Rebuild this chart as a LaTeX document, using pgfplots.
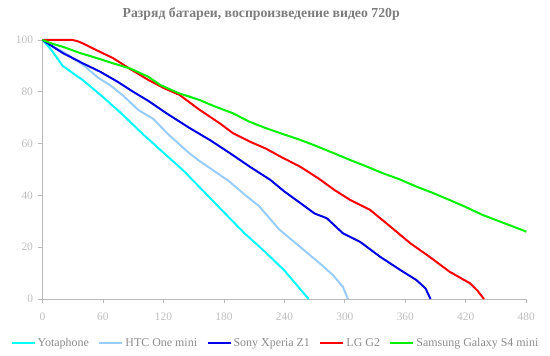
\documentclass[border=0pt]{standalone}
\usepackage{fontspec}
\setmainfont{Liberation Serif}
\usepackage{pgfplots}
\pgfplotsset{compat=1.18}
\definecolor{titlegray}{RGB}{125,125,125}
\definecolor{tickgray}{RGB}{190,190,190}
\definecolor{leggray}{RGB}{140,140,140}
\definecolor{axgray}{RGB}{185,185,185}
\definecolor{htc}{RGB}{153,204,255}
\definecolor{yota}{RGB}{0,255,255}
\definecolor{sony}{RGB}{0,0,230}
\definecolor{lg}{RGB}{255,0,0}
\definecolor{sams}{RGB}{0,240,0}
\begin{document}
\begin{tikzpicture}[x=1bp,y=1bp]
\path[use as bounding box] (-42.5,-56) rectangle (507.5,299);
\begin{axis}[
  at={(0,0)}, anchor=south west,
  scale only axis, width=483.8bp, height=259bp,
  xmin=0, xmax=480, ymin=0, ymax=100,
  axis lines*=left,
  axis line style={axgray, line width=0.8bp},
  xtick={0,60,...,480}, ytick={0,20,...,100},
  tick style={axgray, line width=0.8bp},
  tick align=outside, major tick length=4bp,
  tick label style={font=\fontsize{11.5}{13}\selectfont, text=tickgray},
  /pgf/number format/assume math mode=true,
  xticklabel style={yshift=-6bp},
  yticklabel style={xshift=-2bp},
  title={\textbf{Разряд батареи, воспроизведение видео 720р}},
  title style={font=\fontsize{13.8}{15}\selectfont, text=titlegray, at={(0.452,1)}, yshift=10bp},
  legend columns=5,
  legend style={draw=none, fill=none, at={(0.4816,-0.17)}, anchor=center,
    font=\fontsize{12}{13}\selectfont, text=leggray,
    /tikz/every even column/.append style={column sep=7.5bp}},
  legend image code/.code={\draw[#1, line width=2bp] (0bp,0bp) -- (23bp,0bp);},
  every axis plot/.append style={line width=2bp},
  clip=false,
]
\addplot[yota] coordinates {(0,100)(5,98)(10,95.5)(20,90)(40,84.5)(60,78)(80,71)(100,63.5)(120,56.5)(140,49.5)(160,41.5)(180,33.5)(200,25.5)(220,18.5)(240,11)(264,0)};
\addlegendentry{Yotaphone}
\addplot[htc] coordinates {(0,100)(10,97.5)(20,95.5)(40,90.5)(55,85.5)(67,82.6)(80,78.5)(95,73)(110,69.5)(125,63.5)(145,56.5)(155,53.5)(170,49.5)(185,45.5)(200,40.5)(215,35.8)(235,26.8)(255,20.3)(275,13.8)(288,9.3)(298,4.7)(303,0)};
\addlegendentry{HTC One mini}
\addplot[sony] coordinates {(0,100)(20,95)(40,91)(57,87.8)(74,84)(90,80)(105,76.5)(123,71.7)(146,66)(166,61.4)(186,56.3)(206,51)(226,46)(240,41.5)(256,37)(270,33)(282,31.2)(298,25.4)(315,22.1)(335,16.3)(355,11.2)(371,7.3)(380,4.1)(385,0)};
\addlegendentry{Sony Xperia Z1}
\addplot[lg] coordinates {(0,100)(30,100)(35,99.5)(40,98.7)(54,96)(70,93)(87,88.8)(105,84.6)(120,81.5)(136,78.8)(156,73)(176,67.8)(189,64)(206,60.7)(222,58)(236,55)(256,51)(274,46.5)(290,42)(305,38.3)(325,34.4)(345,28)(365,21.5)(384,16.3)(404,10.5)(424,6.1)(432,3)(438,0)};
\addlegendentry{LG G2}
\addplot[sams] coordinates {(0,100)(10,98.5)(20,97.4)(37,95)(54,93)(70,91)(87,89)(105,85.8)(117,82.6)(135,79.5)(156,76.8)(170,74.5)(189,71.7)(205,68.5)(222,65.9)(240,63.5)(256,61.4)(272,59)(289,56.3)(305,53.7)(322,51.1)(338,48.5)(353,46.4)(371,43.4)(387,41)(404,38.2)(420,35.5)(437,32.4)(460,29)(480,26)};
\addlegendentry{Samsung Galaxy S4 mini}
\end{axis}
\end{tikzpicture}
\end{document}
